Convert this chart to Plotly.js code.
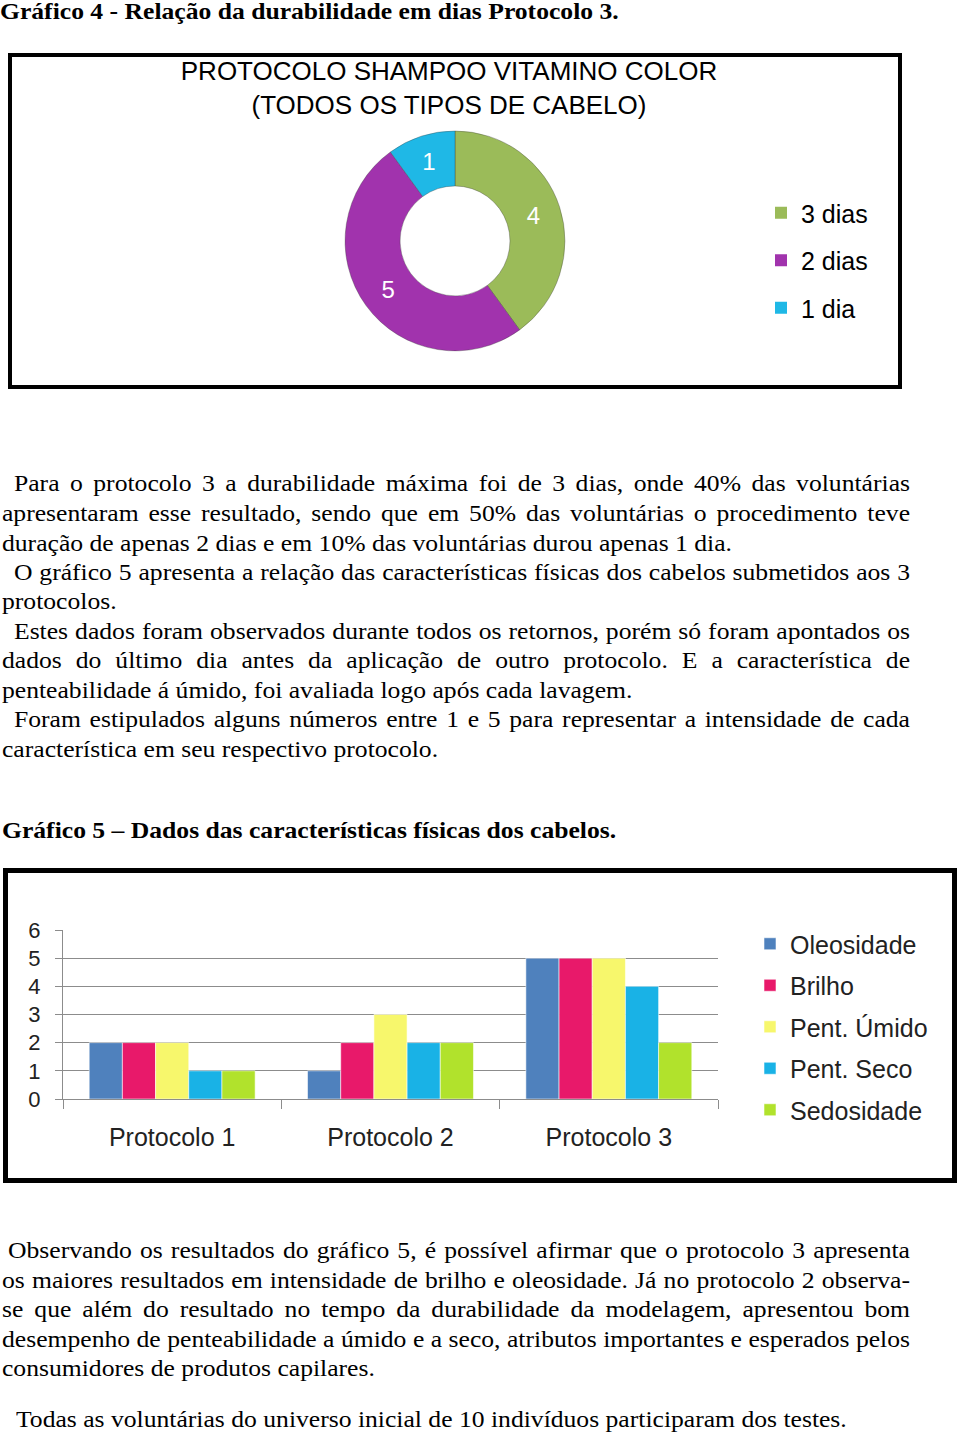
<!DOCTYPE html>
<html lang="pt">
<head>
<meta charset="utf-8">
<script src="https://cdn.plot.ly/plotly-3.0.1.min.js"></script>
<style>
  html, body { margin: 0; padding: 0; background: #fff; }
  body { width: 960px; height: 1436px; position: relative; overflow: hidden;
         font-family: "Liberation Serif", "Times New Roman", serif; color: #000; }
  .ln { position: absolute; font-size: 23px; height: 30px; line-height: 30px; white-space: nowrap;
        transform: scaleX(1.114); transform-origin: 0 0; }
  .j { text-align: justify; text-align-last: justify; white-space: normal; overflow: visible; }
  .b { font-weight: bold; }
  .box { position: absolute; box-sizing: border-box; border: 4px solid #000; }
  .plot { position: absolute; }
</style>
</head>
<body>

<div class="ln b" style="left:0;top:-3px;">Gráfico 4 - Relação da durabilidade em dias Protocolo 3.</div>

<div class="box" style="left:8px;top:53px;width:894px;height:336px;"></div>
<div id="donut" class="plot" style="left:12px;top:57px;width:886px;height:328px;"></div>

<div class="ln j" style="left:14px;width:804.3px;top:469px;">Para o protocolo 3 a durabilidade máxima foi de 3 dias, onde 40% das voluntárias</div>
<div class="ln j" style="left:2px;width:815.1px;top:499px;">apresentaram esse resultado, sendo que em 50% das voluntárias o procedimento teve</div>
<div class="ln" style="left:2px;top:529px;">duração de apenas 2 dias e em 10% das voluntárias durou apenas 1 dia.</div>
<div class="ln j" style="left:14px;width:804.3px;top:558px;">O gráfico 5 apresenta a relação das características físicas dos cabelos submetidos aos 3</div>
<div class="ln" style="left:2px;top:587px;">protocolos.</div>
<div class="ln j" style="left:14px;width:804.3px;top:617px;">Estes dados foram observados durante todos os retornos, porém só foram apontados os</div>
<div class="ln j" style="left:2px;width:815.1px;top:646px;">dados do último dia antes da aplicação de outro protocolo. E a característica de</div>
<div class="ln" style="left:2px;top:676px;">penteabilidade á úmido, foi avaliada logo após cada lavagem.</div>
<div class="ln j" style="left:14px;width:804.3px;top:705px;">Foram estipulados alguns números entre 1 e 5 para representar a intensidade de cada</div>
<div class="ln" style="left:2px;top:735px;">característica em seu respectivo protocolo.</div>

<div class="ln b" style="left:2px;top:816px;">Gráfico 5 – Dados das características físicas dos cabelos.</div>

<div class="box" style="left:3px;top:868px;width:954px;height:315px;border-width:5px;"></div>
<div id="bars" class="plot" style="left:8px;top:873px;width:944px;height:305px;"></div>

<div class="ln j" style="left:8px;width:809.7px;top:1236px;">Observando os resultados do gráfico 5, é possível afirmar que o protocolo 3 apresenta</div>
<div class="ln j" style="left:2px;width:815.1px;top:1266px;">os maiores resultados em intensidade de brilho e oleosidade. Já no protocolo 2 observa-</div>
<div class="ln j" style="left:2px;width:815.1px;top:1295px;">se que além do resultado no tempo da durabilidade da modelagem, apresentou bom</div>
<div class="ln j" style="left:2px;width:815.1px;top:1325px;">desempenho de penteabilidade a úmido e a seco, atributos importantes e esperados pelos</div>
<div class="ln" style="left:2px;top:1354px;">consumidores de produtos capilares.</div>
<div class="ln" style="left:16px;top:1405px;">Todas as voluntárias do universo inicial de 10 indivíduos participaram dos testes.</div>

<script>
// ---------- Data: Gráfico 4 (donut) ----------
const durLabels = ['3 dias', '2 dias', '1 dia'];
const durValues = [4, 5, 1];
const durColors = ['#9BBB59', '#A133AD', '#1FB8E6'];
const donutTitle = 'PROTOCOLO SHAMPOO VITAMINO COLOR<br>(TODOS OS TIPOS DE CABELO)';

// ---------- Data: Gráfico 5 (bars) ----------
const categories = ['Protocolo 1', 'Protocolo 2', 'Protocolo 3'];
const seriesNames = ['Oleosidade', 'Brilho', 'Pent. Úmido', 'Pent. Seco', 'Sedosidade'];
const oleosidade = [2, 1, 5];
const brilho     = [2, 2, 5];
const pentUmido  = [2, 3, 5];
const pentSeco   = [1, 2, 4];
const sedosidade = [1, 2, 2];
const yTickVals  = [0, 1, 2, 3, 4, 5, 6];
const seriesColors = ['#4F81BD', '#E8196A', '#F7F76C', '#19B2E6', '#B1E22C'];

const sans = '"Liberation Sans", Arial, sans-serif';

// ---------- Donut ----------
const donutTraces = [{
  type: 'pie',
  labels: durLabels,
  values: durValues,
  hole: 0.5,
  sort: false,
  direction: 'clockwise',
  rotation: 0,
  marker: { colors: durColors, line: { color: 'rgba(60,60,60,0.35)', width: 1 } },
  textinfo: 'value',
  textposition: 'inside',
  insidetextorientation: 'horizontal',
  textfont: { family: sans, size: 24, color: '#ffffff' },
  domain: { x: [0.3758, 0.6242], y: [0.104, 0.7744] },
  showlegend: false
}];
// legend entries for the donut slices (one group per slice, so the spacing can match)
durLabels.forEach(function (lab, i) {
  donutTraces.push({
    type: 'bar', x: [null], y: [null], name: lab,
    marker: { color: durColors[i] },
    legendgroup: 'd' + i, showlegend: true, hoverinfo: 'skip'
  });
});

Plotly.newPlot('donut', donutTraces, {
  width: 886, height: 328,
  margin: { l: 0, r: 0, t: 0, b: 0 },
  paper_bgcolor: 'rgba(0,0,0,0)', plot_bgcolor: 'rgba(0,0,0,0)',
  font: { family: sans, color: '#000' },
  title: {
    text: donutTitle,
    x: 437 / 886, xref: 'container', xanchor: 'center',
    y: 1 - 23 / 328, yref: 'container', yanchor: 'middle',
    font: { family: sans, size: 26, color: '#000' }
  },
  xaxis: { visible: false }, yaxis: { visible: false },
  legend: {
    x: 749 / 886, xref: 'paper', xanchor: 'left',
    y: 1 - 133 / 328, yref: 'paper', yanchor: 'top',
    font: { family: sans, size: 25, color: '#000' },
    tracegroupgap: 12, bgcolor: 'rgba(0,0,0,0)', maxheight: 300
  }
}, { displayModeBar: false, staticPlot: true });

// ---------- Bars ----------
const seriesValues = [oleosidade, brilho, pentUmido, pentSeco, sedosidade];
const barTraces = seriesNames.map(function (name, i) {
  return {
    type: 'bar', x: categories, y: seriesValues[i], name: name,
    marker: { color: seriesColors[i], line: { color: 'rgba(255,255,255,0.55)', width: 1 } },
    legendgroup: 's' + i
  };
});

Plotly.newPlot('bars', barTraces, {
  width: 944, height: 305,
  margin: { l: 55, r: 234, t: 57, b: 79 },
  paper_bgcolor: '#ffffff', plot_bgcolor: '#ffffff',
  font: { family: sans, color: '#222' },
  barmode: 'group', bargap: 0.24, bargroupgap: 0,
  showlegend: true,
  xaxis: {
    type: 'category', tickson: 'boundaries', ticks: 'outside', ticklen: 9,
    tickcolor: '#8c8c8c', showline: true, linecolor: '#8c8c8c', showgrid: false,
    tickfont: { family: sans, size: 25, color: '#222' }, ticklabelstandoff: 16
  },
  yaxis: {
    range: [0, 6], tickvals: yTickVals, ticks: 'outside', ticklen: 7,
    tickcolor: '#8c8c8c', showline: true, linecolor: '#8c8c8c',
    showgrid: true, gridcolor: '#8c8c8c', gridwidth: 1, zeroline: false,
    tickfont: { family: sans, size: 22, color: '#222' }, ticklabelstandoff: 10
  },
  legend: {
    x: 742 / 944, xref: 'container', xanchor: 'left',
    y: 1 - 48 / 305, yref: 'container', yanchor: 'top',
    font: { family: sans, size: 25, color: '#222' },
    tracegroupgap: 6, bgcolor: 'rgba(0,0,0,0)', maxheight: 300
  }
}, { displayModeBar: false, staticPlot: true });
</script>
</body>
</html>
